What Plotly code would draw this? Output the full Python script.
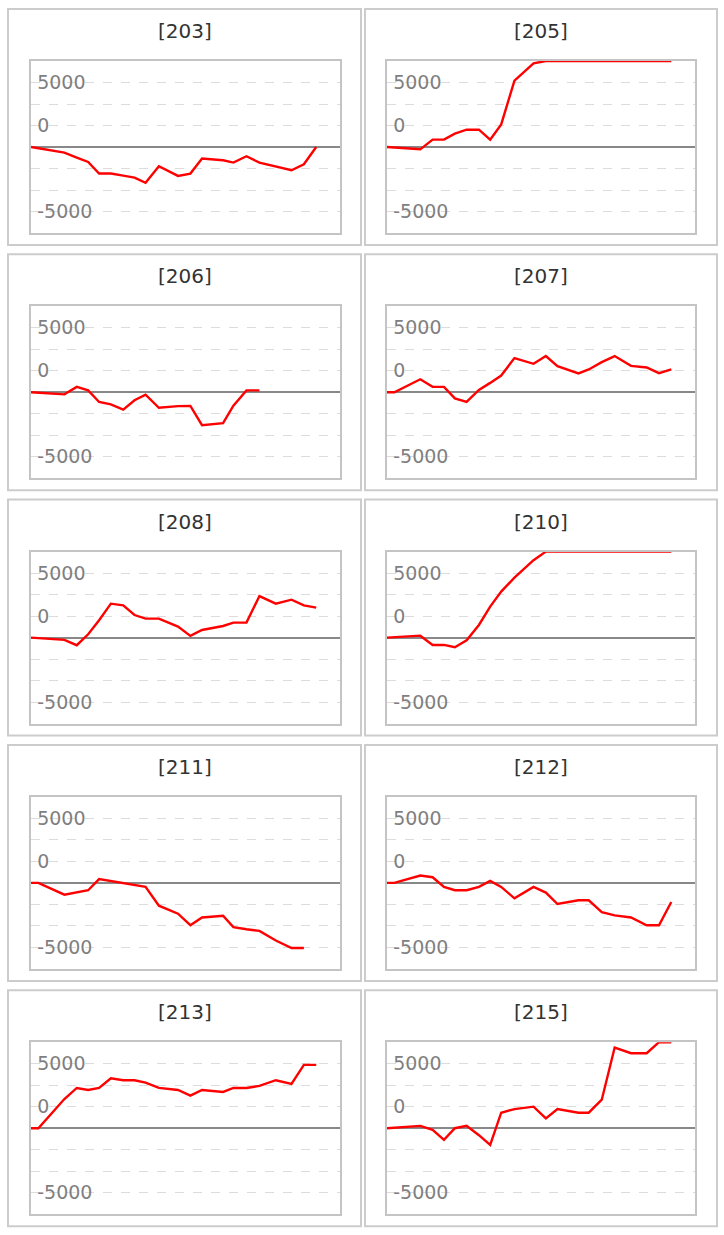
import plotly.graph_objects as go

# ---------------- data ----------------
x_hours = [0, 0.62, 2.81, 3.85, 4.81, 5.73, 6.72, 7.76, 8.71, 9.64, 10.76, 12.37,
           13.41, 14.39, 16.16, 17.03, 18.13, 19.22, 20.6, 21.92, 22.96, 24.0]

machines = ["203", "205", "206", "207", "208", "210", "211", "212", "213", "215"]

v203 = [0, -100, -440, -820, -1160, -2060, -2060, -2220, -2370, -2780, -1490, -2240,
        -2060, -900, -1030, -1210, -720, -1210, -1500, -1800, -1340, 0]
v205 = [0, -40, -180, 570, 570, 1030, 1340, 1340, 570, 1750, 5150, 6490,
        6667, 6667, 6667, 6667, 6667, 6667, 6667, 6667, 6667, 6667]
v206 = [0, -40, -160, 420, 150, -750, -940, -1350, -620, -180, -1200, -1070,
        -1060, -2550, -2390, -1040, 150, 150]
v207 = [0, 0, 1010, 420, 420, -470, -750, 180, 730, 1300, 2650, 2210,
        2810, 2030, 1460, 1770, 2340, 2810, 2050, 1920, 1480, 1770]
v208 = [0, -40, -180, -590, 260, 1340, 2630, 2500, 1750, 1470, 1470, 850,
        130, 590, 900, 1160, 1160, 3220, 2630, 2940, 2500, 2320]
v210 = [0, 30, 150, -570, -570, -750, -210, 980, 2400, 3570, 4650, 6000,
        6667, 6667, 6667, 6667, 6667, 6667, 6667, 6667, 6667, 6667]
v211 = [0, 0, -910, -730, -570, 290, 130, -30, -170, -310, -1770, -2390,
        -3280, -2680, -2550, -3430, -3590, -3720, -4470, -5050, -5050]
v212 = [0, 0, 570, 440, -310, -570, -570, -310, 160, -310, -1200, -310,
        -750, -1640, -1350, -1350, -2260, -2520, -2680, -3280, -3280, -1480]
v213 = [0, 0, 2260, 3120, 2960, 3120, 3870, 3720, 3720, 3540, 3120, 2960,
        2520, 2960, 2810, 3120, 3120, 3280, 3720, 3430, 4910, 4910]
v215 = [0, 40, 180, -130, -910, 0, 180, -540, -1300, 1200, 1480, 1670,
        760, 1480, 1200, 1200, 2210, 6250, 5810, 5810, 6667, 6667]

series = [v203, v205, v206, v207, v208, v210, v211, v212, v213, v215]

y_tickvals = [5000, 5000 / 3, -5000]
y_ticktext = ["5000", "0", "-5000"]
y_range = [-6667, 6667]
x_range = [0, 26]

# ---------------- layout geometry (pixels) ----------------
W, H = 724, 1235
ROW = 245.3
col_plot_x = [(31, 340), (387, 695)]
col_box_x = [(8, 361), (365, 717)]
box_top0, box_bot0 = 9, 245
plot_top0, plot_bot0 = 61, 233
title_y0 = 31

FONT = "DejaVu Sans"

fig = go.Figure()
shapes = []
annotations = []

for i, (name, vals) in enumerate(zip(machines, series)):
    r, c = divmod(i, 2)
    k = i + 1
    xa = "x" if k == 1 else f"x{k}"
    ya = "y" if k == 1 else f"y{k}"
    fig.add_trace(go.Scatter(
        x=x_hours[:len(vals)], y=vals, mode="lines",
        line=dict(color="#ff0000", width=2.4),
        xaxis=xa, yaxis=ya, showlegend=False, hoverinfo="skip"))

    px0, px1 = col_plot_x[c]
    pt = plot_top0 + ROW * r
    pb = plot_bot0 + ROW * r
    axis_common = dict(showline=True, mirror=True, linecolor="#c4c4c4", linewidth=2)
    fig.layout[f"xaxis{'' if k == 1 else k}"] = dict(
        domain=[px0 / W, px1 / W], range=x_range, anchor=ya,
        showticklabels=False, showgrid=False, zeroline=False, ticks="",
        fixedrange=True, **axis_common)
    fig.layout[f"yaxis{'' if k == 1 else k}"] = dict(
        domain=[1 - pb / H, 1 - pt / H], range=y_range, anchor=xa,
        tickvals=y_tickvals, ticktext=y_ticktext, ticks="",
        ticklabelposition="inside", ticklabelstandoff=7,
        tickfont=dict(family=FONT, size=19, color="#7f7f7f"),
        showgrid=True, gridcolor="#dcdcdc", griddash="dash", gridwidth=1,
        minor=dict(dtick=5000 / 3, tick0=0, showgrid=True, gridcolor="#dcdcdc",
                   griddash="dash", gridwidth=1),
        zeroline=True, zerolinecolor="#888888", zerolinewidth=2,
        fixedrange=True, **axis_common)

    bx0, bx1 = col_box_x[c]
    bt = box_top0 + ROW * r
    bb = box_bot0 + ROW * r
    shapes.append(dict(type="rect", xref="paper", yref="paper",
                       x0=bx0 / W, x1=bx1 / W, y0=1 - bb / H, y1=1 - bt / H,
                       line=dict(color="#cccccc", width=2), layer="below"))
    annotations.append(dict(text=f"[{name}]", xref="paper", yref="paper",
                            x=(bx0 + bx1) / 2 / W, y=1 - (title_y0 + ROW * r) / H,
                            xanchor="center", yanchor="middle", showarrow=False,
                            font=dict(family=FONT, size=20, color="#333333")))

fig.update_layout(
    width=W, height=H, margin=dict(l=0, r=0, t=0, b=0),
    paper_bgcolor="white", plot_bgcolor="white",
    shapes=shapes, annotations=annotations, showlegend=False)

fig.write_html(
    "out.html",
    config={"displayModeBar": False},
    post_script="document.body.style.margin='0';document.body.style.overflow='hidden';")
